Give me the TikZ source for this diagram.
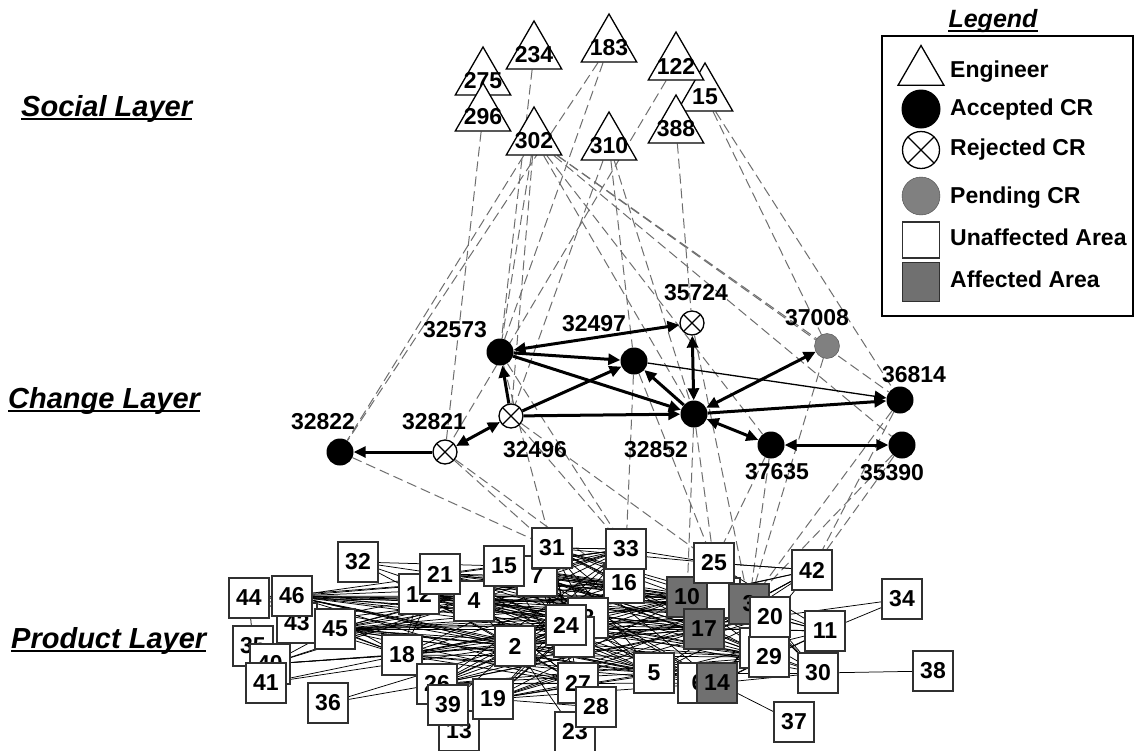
\documentclass[tikz,border=0pt]{standalone}
\usepackage{fontspec}
\setmainfont{Liberation Sans}
\usetikzlibrary{shapes.geometric, arrows.meta, backgrounds}

\definecolor{pendgray}{HTML}{808080}
\definecolor{affgray}{HTML}{707070}
\definecolor{boxline}{HTML}{303030}
\definecolor{dashgray}{HTML}{6E6E6E}

\newcommand{\numfont}{\fontsize{23}{23}\selectfont\bfseries}
\newcommand{\layerfont}{\fontsize{29}{29}\selectfont\bfseries\itshape}

\tikzset{
  eng/.style={regular polygon, regular polygon sides=3, draw, fill=white, line width=1.3pt, minimum size=64pt, inner sep=0pt},
  acc/.style={circle, fill=black, minimum size=27pt, inner sep=0pt},
  rej/.style={circle, draw, fill=white, line width=1.3pt, minimum size=24pt, inner sep=0pt,
    path picture={\draw[line width=1.3pt] (path picture bounding box.north west) -- (path picture bounding box.south east)
      (path picture bounding box.south west) -- (path picture bounding box.north east);}},
  pend/.style={circle, draw=gray!60!black, fill=pendgray, minimum size=25pt, inner sep=0pt},
  unaff/.style={rectangle, draw=boxline, fill=white, line width=1.5pt, minimum size=40pt, inner sep=0pt, font=\numfont},
  aff/.style={unaff, fill=affgray},
  lab/.style={font=\numfont, inner sep=0pt},
  layer/.style={font=\layerfont, inner sep=0pt, anchor=base west},
  item/.style={font=\fontsize{23}{23}\selectfont\bfseries, inner sep=0pt, anchor=base west},
  dashlink/.style={dashgray, line width=1pt, dash pattern=on 10pt off 5pt},
  prod/.style={black, line width=0.75pt},
  chg/.style={line width=3pt},
  >={Triangle[length=12pt,width=11pt]}
}

\begin{document}
\begin{tikzpicture}[x=1pt, y=-1pt, every label/.style={font=\numfont, yshift=-2pt}]
\useasboundingbox (0,0) rectangle (1138,750);

% layer titles
\node[layer] (lsocial) at (21,116) {Social Layer};
\node[layer] (lchange) at (8,408) {Change Layer};
\node[layer] (lproduct) at (11,648) {Product Layer};
\foreach \l in {lsocial, lchange, lproduct}
  \draw[line width=2pt] ([yshift=-3pt]\l.base west) -- ([yshift=-3pt]\l.base east);

% social layer
\node[eng, label={center:275}] (s275) at (483,79) {};
\node[eng, label={center:296}] (s296) at (483,115) {};
\node[eng, label={center:234}] (s234) at (534,53) {};
\node[eng, label={center:183}] (s183) at (609,46) {};
\node[eng, label={center:15}] (s15) at (705,95) {};
\node[eng, label={center:122}] (s122) at (676,64) {};
\node[eng, label={center:388}] (s388) at (676,127) {};
\node[eng, label={center:302}] (s302) at (534,139) {};
\node[eng, label={center:310}] (s310) at (609,144) {};

% change layer
\node[acc] (c32573) at (500,352) {};
\node[acc] (c32497) at (634,361) {};
\node[rej] (c35724) at (692,323) {};
\node[pend] (c37008) at (827,346) {};
\node[acc] (c36814) at (900,400) {};
\node[acc] (c32852) at (694,414) {};
\node[acc] (c37635) at (771,445) {};
\node[acc] (c35390) at (902,445) {};
\node[rej] (c32496) at (511,416) {};
\node[rej] (c32821) at (445,452) {};
\node[acc] (c32822) at (340,452) {};

\node[lab] (t32573) at (455,330) {32573};
\node[lab] (t32497) at (594,324) {32497};
\node[lab] (t35724) at (696,293) {35724};
\node[lab] (t37008) at (817,318) {37008};
\node[lab] (t36814) at (914,375) {36814};
\node[lab] (t32852) at (656,450) {32852};
\node[lab] (t37635) at (777,472) {37635};
\node[lab] (t35390) at (892,473) {35390};
\node[lab] (t32496) at (535,450) {32496};
\node[lab] (t32821) at (434,422) {32821};
\node[lab] (t32822) at (323,422) {32822};

% product layer
\node[unaff] (p43) at (297,623) {43};
\node[unaff] (p44) at (249,598) {44};
\node[unaff] (p46) at (292,596) {46};
\node[unaff] (p35) at (253,646) {35};
\node[unaff] (p40) at (270,664) {40};
\node[unaff] (p41) at (266,683) {41};
\node[unaff] (p45) at (335,629) {45};
\node[unaff] (p32) at (358,562) {32};
\node[unaff] (p12) at (419,594) {12};
\node[unaff] (p4) at (474,601) {4};
\node[unaff] (p21) at (440,574) {21};
\node[unaff] (p18) at (402,655) {18};
\node[unaff] (p36) at (328,703) {36};
\node[unaff] (p13) at (459,731) {13};
\node[unaff] (p26) at (437,684) {26};
\node[unaff] (p39) at (448,705) {39};
\node[unaff] (p19) at (493,699) {19};
\node[unaff] (p7) at (537,576) {7};
\node[unaff] (p15) at (504,566) {15};
\node[unaff] (p31) at (552,548) {31};
\node[unaff] (p16) at (624,583) {16};
\node[unaff] (p33) at (626,549) {33};
\node[unaff] (p8) at (588,618) {8};
\node[unaff] (p1) at (574,637) {};
\node[unaff] (p24) at (566,625) {24};
\node[unaff] (p2) at (515,646) {2};
\node[unaff] (p23) at (575,732) {23};
\node[unaff] (p27) at (578,683) {27};
\node[unaff] (p28) at (596,707) {28};
\node[unaff] (p5) at (654,673) {5};
\node[unaff] (p6) at (698,683) {6};
\node[aff] (p14) at (717,683) {14};
\node[unaff] (p22) at (720,598) {};
\node[aff] (p10) at (687,597) {10};
\node[aff] (p17) at (704,629) {17};
\node[aff] (p3) at (749,604) {3};
\node[unaff] (p25) at (714,563) {25};
\node[unaff] (p9) at (760,648) {};
\node[unaff] (p20) at (770,617) {20};
\node[unaff] (p29) at (769,657) {29};
\node[unaff] (p42) at (812,570) {42};
\node[unaff] (p11) at (825,631) {11};
\node[unaff] (p30) at (818,673) {30};
\node[unaff] (p34) at (902,599) {34};
\node[unaff] (p38) at (933,671) {38};
\node[unaff] (p37) at (794,722) {37};

% legend
\node[font=\fontsize{25}{25}\selectfont\bfseries\itshape, inner sep=0pt, anchor=base] (tlegend) at (993,27) {Legend};
\draw[line width=1.8pt] ([yshift=-4pt]tlegend.base west) -- ([yshift=-4pt]tlegend.base east);
\draw[line width=1.3pt] (882,36) rectangle (1133,316);
\node[eng, minimum size=53pt] (keng) at (921,72) {};
\node[acc, minimum size=39pt] (kacc) at (921,109) {};
\node[rej, minimum size=37pt] (krej) at (921,150) {};
\node[pend, minimum size=38pt] (kpend) at (921,196) {};
\node[unaff, minimum width=37pt, minimum height=36pt] (kunaff) at (921,240) {};
\node[aff, minimum width=37pt, minimum height=39pt] (kaff) at (921,282) {};
\node[item] (teng) at (950,77) {Engineer};
\node[item] (tacc) at (950,115) {Accepted CR};
\node[item] (trej) at (950,155) {Rejected CR};
\node[item] (tpend) at (950,203) {Pending CR};
\node[item] (tunaff) at (950,245) {Unaffected Area};
\node[item] (taff) at (950,287) {Affected Area};

\begin{scope}[on background layer]
  \fill[white] (0,0) rectangle (1138,750);
  % who worked on which change
  \foreach \a/\b in {302/32822, 302/32573, 302/32496, 302/32852, 302/37008, 302/36814, 302/35390, 302/37635,
      296/32821, 234/32573, 183/32822, 183/32573, 122/32821, 310/32496, 310/32497, 310/32852,
      388/35724, 15/37008, 15/36814}
    \draw[dashlink] (s\a) -- (c\b);
  % which change touched which area
  \foreach \a/\b in {32822/31, 32821/31, 32821/16, 32573/31, 32573/33, 32496/33, 32496/25, 32497/33, 32497/25,
      32852/10, 32852/25, 35724/3, 37635/3, 37635/25, 37008/3, 36814/3, 36814/42, 35390/3, 35390/42}
    \draw[dashlink] (c\a) -- (p\b);
  % product dependencies
  \foreach \a in {2,4,12,21,15,7,31,18,26,19,45,46}
    \foreach \b in {10,17,3,20,29,14,5,16,33,24,8,27}
      \draw[prod] (p\a) -- (p\b);
  \foreach \a in {10,17,3,14,5,25,24}
    \foreach \b in {11,30,20,29,42}
      \draw[prod] (p\a) -- (p\b);
  \foreach \a in {44,46,43,45,40,12,21}
    \foreach \b in {2,4,18,7}
      \draw[prod] (p\a) -- (p\b);
  \foreach \a/\b in {32/21, 32/4, 32/15, 32/12, 44/46, 44/35, 43/46, 43/2, 46/4, 46/2, 40/18, 40/45,
      41/18, 41/2, 36/26, 36/2, 13/39, 39/2, 19/28, 23/2, 34/20, 34/11, 38/30, 37/14, 42/3, 42/25,
      11/20, 11/29, 11/17, 30/29, 30/20, 31/33, 31/25, 33/25, 15/31}
    \draw[prod] (p\a) -- (p\b);
\end{scope}

% change dependencies
\draw[chg, ->] (c32821) -- (c32822);
\draw[chg, <->] (c32821) -- (c32496);
\draw[chg, ->] (c32496) -- (c32573);
\draw[chg, ->] (c32496) -- (c32497);
\draw[chg, ->] (c32496) -- (c32852);
\draw[chg, <->] (c32573) -- (c35724);
\draw[chg, ->] (c32573) -- (c32497);
\draw[chg, ->] (c32573) -- (c32852);
\draw[chg, ->] (c32852) -- (c32497);
\draw[chg, <->] (c32852) -- (c35724);
\draw[chg, <->] (c32852) -- (c37008);
\draw[chg, ->] (c32852) -- (c36814);
\draw[chg, <->] (c32852) -- (c37635);
\draw[chg, <->] (c37635) -- (c35390);
\draw[line width=1.3pt, ->] (c32497) -- (c36814);

\end{tikzpicture}
\end{document}
